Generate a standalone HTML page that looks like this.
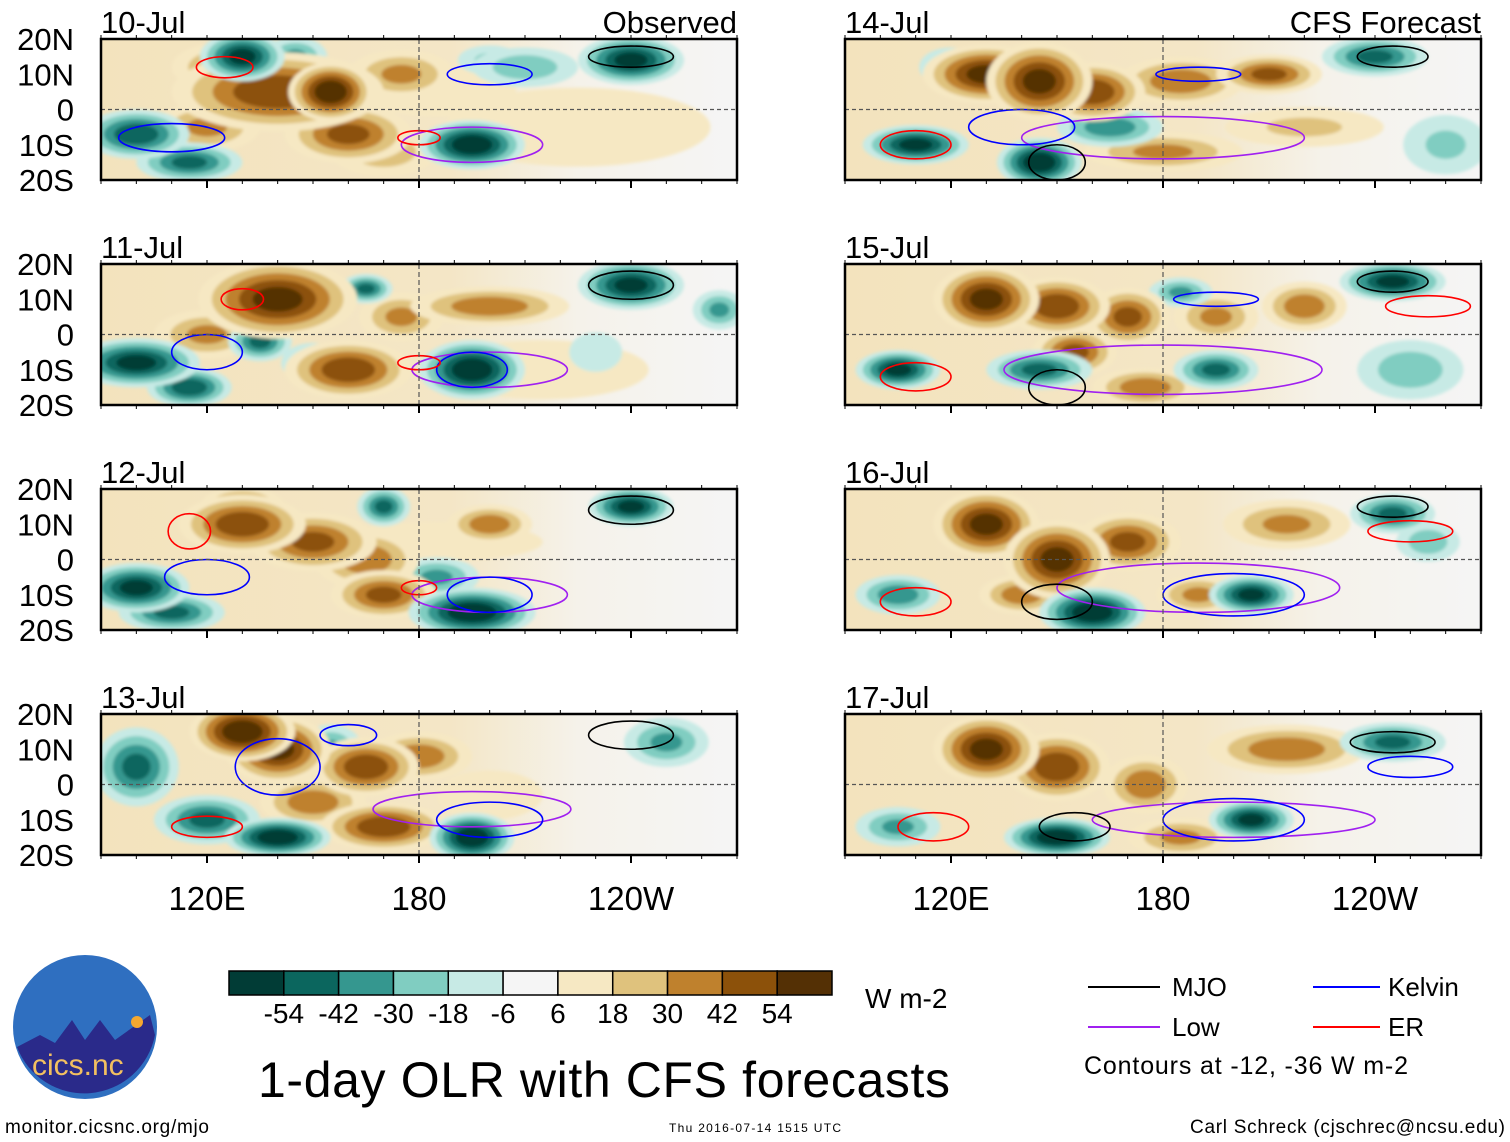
<!DOCTYPE html>
<html><head><meta charset="utf-8">
<style>
body{margin:0;background:#fff;font-family:"Liberation Sans",sans-serif;}
svg{display:block}
text{font-family:"Liberation Sans",sans-serif;fill:#000}
</style></head>
<body>
<svg id="chart" width="1510" height="1142" viewBox="0 0 1510 1142" xmlns="http://www.w3.org/2000/svg">
<defs>
<filter id="bl" x="-30%" y="-30%" width="160%" height="160%"><feGaussianBlur stdDeviation="1.5"/></filter>
<clipPath id="cl"><rect x="0" y="0" width="636" height="141"/></clipPath>
<linearGradient id="bg" x1="0" y1="0" x2="1" y2="0">
<stop offset="0" stop-color="#f3e3bd"/><stop offset="0.55" stop-color="#f4e6c6"/><stop offset="0.75" stop-color="#f5f2ea"/><stop offset="1" stop-color="#f5f5f5"/>
</linearGradient>
</defs>
<g id="panels"></g>
<g id="colorbar"></g>
<text x="865" y="1008" font-size="28">W m-2</text>
<g>
<line x1="1088" y1="987" x2="1160" y2="987" stroke="#000" stroke-width="2"/>
<text x="1172" y="996" font-size="26">MJO</text>
<line x1="1313" y1="987" x2="1380" y2="987" stroke="#0000ff" stroke-width="2"/>
<text x="1388" y="996" font-size="26">Kelvin</text>
<line x1="1088" y1="1027" x2="1160" y2="1027" stroke="#a020f0" stroke-width="2"/>
<text x="1172" y="1036" font-size="26">Low</text>
<line x1="1313" y1="1027" x2="1380" y2="1027" stroke="#ff0000" stroke-width="2"/>
<text x="1388" y="1036" font-size="26">ER</text>
<text x="1084" y="1074" font-size="25" textLength="324">Contours at -12, -36 W m-2</text>
</g>
<text x="258" y="1097" font-size="50" textLength="692">1-day OLR with CFS forecasts</text>
<g>
<circle cx="85" cy="1027" r="72" fill="#2f6fc0"/>
<path d="M17,1047 L40,1035 L55,1043 L72,1020 L85,1040 L100,1020 L115,1040 L150,1015 L155,1035 A72,72 0 0 1 17,1047Z" fill="#2a2a8a"/>
<circle cx="137" cy="1022" r="6" fill="#f5a830"/>
<text x="32" y="1075" font-size="30" style="fill:#f3c060">cics.nc</text>
</g>
<text x="5" y="1133" font-size="19" textLength="204">monitor.cicsnc.org/mjo</text>
<text x="669" y="1132" font-size="12" textLength="172">Thu 2016-07-14 1515 UTC</text>
<text x="1190" y="1133" font-size="19" textLength="315">Carl Schreck (cjschrec@ncsu.edu)</text>
</svg>
<script>
const dates=["10-Jul","11-Jul","12-Jul","13-Jul","14-Jul","15-Jul","16-Jul","17-Jul"];
const levels=[-54,-42,-30,-18,-6,6,18,30,42,54];
const levelColors=["#013c36","#0b665e","#35978f","#80cdc1","#c7eae5","#f5f5f5","#f6e8c3","#dfc27d","#bf812d","#8c510a","#543005"];
const latTicks=["20N","10N","0","10S","20S"];
const lonTicks=[[120,"120E"],[180,"180"],[240,"120W"]];
// blobs: [lon, lat, value, rx(deg), ry(deg)]
const blobs0=[[185,5,15,15,5],[225,-5,8,25,8],[140,5,45,20,8],[155,5,55,8,6],[160,-7,40,12,6],[125,12,30,10,5],[120,-5,30,10,5],[175,10,30,10,5],[170,-12,25,10,5],[130,15,-50,8,5],[100,-7,-45,10,5],[115,-15,-40,10,4],[195,-10,-55,10,5],[240,14,-50,10,5],[210,12,-25,10,4],[200,14,-20,6,3],[145,15,-30,6,4]];
const blobs1=[[215,-10,10,20,6],[140,10,50,15,8],[160,-10,45,12,6],[175,5,30,8,5],[200,8,35,15,4],[120,0,30,10,5],[150,-8,-30,6,4],[135,-2,-40,6,4],[100,-8,-50,12,5],[115,-15,-45,8,4],[195,-10,-55,10,6],[240,14,-50,10,5],[265,7,-30,5,4],[165,13,-40,5,3],[230,-5,-15,5,4]];
const blobs2=[[185,5,15,20,4],[130,10,45,12,6],[150,5,40,12,6],[165,0,35,10,6],[200,10,35,8,4],[170,-10,40,10,5],[130,15,40,8,4],[100,-8,-50,10,5],[110,-15,-40,10,4],[195,-15,-55,12,5],[185,-5,-30,8,4],[240,15,-50,8,4],[170,15,-40,5,4]];
const blobs3=[[200,-3,15,10,5],[130,15,55,10,6],[140,10,50,10,7],[165,5,45,10,6],[180,8,35,10,5],[150,-5,35,10,5],[170,-12,45,12,5],[100,5,-40,8,8],[120,-10,-40,10,5],[140,-15,-55,10,4],[195,-15,-55,8,5],[250,12,-30,8,5],[155,10,-30,6,5]];
const blobs4=[[220,-5,20,15,4],[130,10,50,12,6],[145,8,50,10,8],[160,5,45,10,6],[185,8,35,12,5],[210,10,40,10,4],[180,-12,30,15,4],[110,-10,-50,10,4],[145,-15,-55,8,5],[165,-5,-35,10,4],[240,15,-40,10,4],[260,-10,-20,8,6],[120,12,-30,6,4]];
const blobs5=[[130,10,50,10,7],[150,8,45,10,6],[170,5,40,8,6],[195,5,30,8,5],[220,8,35,8,5],[155,-5,40,8,5],[175,-15,35,10,4],[105,-10,-50,8,4],[145,-10,-40,10,4],[195,-10,-40,8,4],[245,15,-50,10,4],[250,-10,-25,10,6],[185,12,-30,6,3]];
const blobs6=[[130,10,50,10,7],[150,0,50,10,8],[170,5,40,10,6],[215,10,30,12,5],[190,-10,30,8,4],[140,-10,35,8,4],[105,-10,-35,8,4],[160,-15,-55,10,5],[205,-10,-50,8,4],[245,13,-40,8,4],[255,5,-25,6,4]];
const blobs7=[[130,10,50,10,7],[150,5,45,10,7],[175,0,35,8,6],[215,10,35,15,5],[185,-15,30,10,4],[150,-15,-55,10,4],[205,-10,-50,8,4],[245,12,-40,10,4],[105,-12,-30,8,4]];
const allBlobs=[blobs0,blobs1,blobs2,blobs3,blobs4,blobs5,blobs6,blobs7];
// contours: [lon, lat, rx, ry, type]
const contours0=[[195,-10,20,5,"low"],[240,15,12,3,"mjo"],[200,10,12,3,"kelvin"],[125,12,8,3,"er"],[110,-8,15,4,"kelvin"],[180,-8,6,2,"er"]];
const contours1=[[200,-10,22,5,"low"],[240,14,12,4,"mjo"],[195,-10,10,5,"kelvin"],[120,-5,10,5,"kelvin"],[180,-8,6,2,"er"],[130,10,6,3,"er"]];
const contours2=[[200,-10,22,5,"low"],[240,14,12,4,"mjo"],[200,-10,12,5,"kelvin"],[120,-5,12,5,"kelvin"],[180,-8,5,2,"er"],[115,8,6,5,"er"]];
const contours3=[[195,-7,28,5,"low"],[240,14,12,4,"mjo"],[200,-10,15,5,"kelvin"],[140,5,12,8,"kelvin"],[120,-12,10,3,"er"],[160,14,8,3,"kelvin"]];
const contours4=[[180,-8,40,6,"low"],[245,15,10,3,"mjo"],[150,-15,8,5,"mjo"],[140,-5,15,5,"kelvin"],[110,-10,10,4,"er"],[190,10,12,2,"kelvin"]];
const contours5=[[180,-10,45,7,"low"],[245,15,10,3,"mjo"],[150,-15,8,5,"mjo"],[110,-12,10,4,"er"],[195,10,12,2,"kelvin"],[255,8,12,3,"er"]];
const contours6=[[190,-8,40,7,"low"],[245,15,10,3,"mjo"],[150,-12,10,5,"mjo"],[110,-12,10,4,"er"],[200,-10,20,6,"kelvin"],[250,8,12,3,"er"]];
const contours7=[[200,-10,40,5,"low"],[245,12,12,3,"mjo"],[155,-12,10,4,"mjo"],[115,-12,10,4,"er"],[200,-10,20,6,"kelvin"],[250,5,12,3,"kelvin"]];
const allContours=[contours0,contours1,contours2,contours3,contours4,contours5,contours6,contours7];
const contourColor={mjo:"#000",kelvin:"#0000ff",low:"#a020f0",er:"#ff0000"};

const NS="http://www.w3.org/2000/svg";
const W=636,H=141;
function xs(lon){return (lon-90)/180*W;}
function ys(lat){return (20-lat)/40*H;}
function mk(t,a,p){const e=document.createElementNS(NS,t);for(const k in a)e.setAttribute(k,a[k]);p.appendChild(e);return e;}
function colorFor(v){let i=0;while(i<levels.length&&v>levels[i])i++;return levelColors[i];}

const panels=document.getElementById("panels");
for(let p=0;p<8;p++){
  const col=p<4?0:1,row=p%4;
  const ox=col?845:101,oy=39+row*225;
  const g=mk("g",{transform:`translate(${ox},${oy})`},panels);
  
  
  const inner=mk("g",{"clip-path":"url(#cl)"},g);
  mk("rect",{x:0,y:0,width:W,height:H,fill:"url(#bg)"},inner);
  const field=mk("g",{filter:"url(#bl)"},inner);
  const bl=allBlobs[p].slice().sort((a,b)=>Math.abs(a[2])-Math.abs(b[2]));
  bl.forEach(b=>{
    const [lon,lat,v,rx,ry]=b;const av=Math.abs(v)*1.1;
    const thr=[6,18,30,42,54].filter(t=>t<av);
    thr.forEach(t=>{
      const s=0.3+0.7*(av-t)/(av-6);
      const e=mk("ellipse",{cx:xs(lon),cy:ys(lat),rx:1.5*rx*s*W/180,ry:1.4*ry*s*H/40,fill:colorFor(v>0?t+1:-t-1)},field);
      
      
    });
  });
  allContours[p].forEach(c=>{
    const e=mk("ellipse",{cx:xs(c[0]),cy:ys(c[1]),rx:c[2]*W/180,ry:c[3]*H/40,fill:"none",stroke:contourColor[c[4]],"stroke-width":1.6},inner);
    
    
  });
  mk("line",{x1:0,y1:ys(0),x2:W,y2:ys(0),stroke:"#555","stroke-dasharray":"4,3","stroke-width":1.2},inner);
  mk("line",{x1:xs(180),y1:0,x2:xs(180),y2:H,stroke:"#555","stroke-dasharray":"5,3","stroke-width":1.2},inner);
  mk("rect",{x:0,y:0,width:W,height:H,fill:"none",stroke:"#000","stroke-width":2.5},g);
  for(let lon=90;lon<=270;lon+=10){const x=xs(lon);mk("line",{x1:x,y1:0,x2:x,y2:-4,stroke:"#000"},g);mk("line",{x1:x,y1:H,x2:x,y2:H+4,stroke:"#000"},g);}
  lonTicks.forEach(t=>{const x=xs(t[0]);mk("line",{x1:x,y1:H,x2:x,y2:H+8,stroke:"#000","stroke-width":2},g);});
  const tt=mk("text",{x:0,y:-6,"font-size":31},g);tt.textContent=dates[p];
  
  if(row===0){const r=mk("text",{x:W,y:-6,"font-size":31,"text-anchor":"end"},g);r.textContent=col?"CFS Forecast":"Observed";
    }
  if(col===0){latTicks.forEach((l,i)=>{const t=mk("text",{x:-27,y:ys(20-i*10)+11,"font-size":31,"text-anchor":"end"},g);t.textContent=l;
    });}
  if(row===3){lonTicks.forEach(t=>{const e=mk("text",{x:xs(t[0]),y:H+55,"font-size":33,"text-anchor":"middle"},g);e.textContent=t[1];
    });}
}
const cb=document.getElementById("colorbar");
const bw=603/11;
levelColors.forEach((c,i)=>{const r=mk("rect",{x:229+i*bw,y:971,width:bw,height:24,fill:c,stroke:"#000","stroke-width":1.5},cb);
  });
levels.forEach((l,i)=>{const t=mk("text",{x:229+(i+1)*bw,y:1023,"font-size":28,"text-anchor":"middle"},cb);t.textContent=l;
  });
</script>
</body></html>
